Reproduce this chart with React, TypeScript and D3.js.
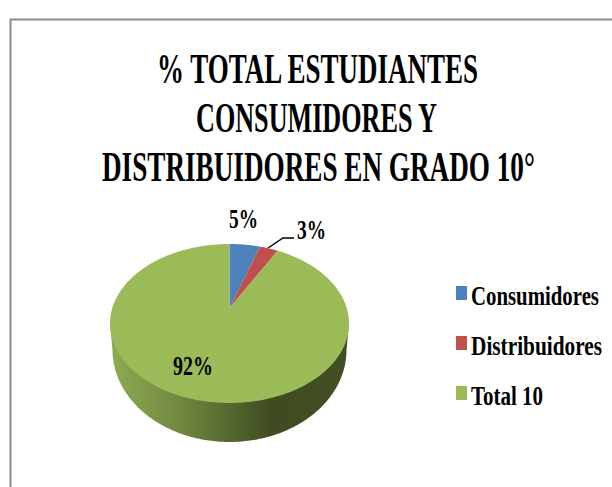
import React, { useLayoutEffect, useRef } from "react";
import * as d3 from "d3";

const categories = ["Consumidores", "Distribuidores", "Total 10"];
const values = [5, 3, 92];
const labels = ["5%", "3%", "92%"];
const colors = ["#4F81BD", "#C0504D", "#9BBB59"];
const titleLines = ["% TOTAL ESTUDIANTES", "CONSUMIDORES Y", "DISTRIBUIDORES EN GRADO 10°"];

const FONT = "'Liberation Serif', serif";
const cx = 229.5, cy = 323.5, rx = 119.5, ry = 79.5, k = 0.195;

// perspective projection of a point of the unit circle: keeps the rim, moves the centre backwards
function project(a: number, r = 1): [number, number] {
  const u = r * Math.sin(a), v = -r * Math.cos(a);
  const w = 1 - k * v;
  return [cx + (rx * u * Math.sqrt(1 - k * k)) / w, cy + (ry * (v - k)) / w];
}

const arcs = d3.pie<number>().sort(null)(values);
const line = d3.line();

function slicePath(a0: number, a1: number) {
  const n = Math.max(2, Math.ceil((a1 - a0) / 0.02));
  const pts = d3.range(n + 1).map((i) => project(a0 + ((a1 - a0) * i) / n));
  return line([project(0, 0), ...pts])! + "Z";
}

function wallPath() {
  const bcx = 229.5, bcy = 350, brx = 117, bry = 92;
  const bottom = d3.range(0, 181).map((i) => {
    const t = (Math.PI * i) / 180;
    return [bcx + brx * Math.cos(t), bcy + bry * Math.sin(t)] as [number, number];
  });
  return line([[cx + rx - 0.5, cy + 5], ...bottom, [cx - rx + 0.5, cy + 5]])! + "Z";
}

const titleSpec = [
  { y: 83, x0: 157, x1: 478 },
  { y: 132, x0: 196, x1: 437 },
  { y: 181, x0: 102, x1: 535 },
];
const legendY = [305, 355, 405];
const legendW = [128, 131, 72];
const labelSpec = [
  { x: 229, y: 228, w: 29 },
  { x: 297, y: 239, w: 29 },
  { x: 173, y: 375, w: 40 },
];

// real text squeezed horizontally to the width it has in the reference
function FitText({ x, y, width, size, children }: { x: number; y: number; width: number; size: number; children: string }) {
  const ref = useRef<SVGTextElement>(null);
  useLayoutEffect(() => {
    const el = ref.current!;
    const natural = el.getComputedTextLength();
    el.setAttribute("transform", `translate(${x},${y}) scale(${width / natural},1)`);
  });
  return (
    <text ref={ref} transform={`translate(${x},${y}) scale(0.7,1)`} fontFamily={FONT} fontWeight="bold" fontSize={size} fill="#000">
      {children}
    </text>
  );
}

export default function App() {
  return (
    <svg width={612} height={487} style={{ position: "absolute", left: 0, top: 0, background: "#fff" }}>
      <defs>
        <linearGradient id="wall" gradientUnits="userSpaceOnUse" x1={110} x2={349} y1={0} y2={0}>
          <stop offset="0" stopColor="#8EAB52" />
          <stop offset="0.3" stopColor="#71873F" />
          <stop offset="0.67" stopColor="#3F4C22" />
          <stop offset="1" stopColor="#424F24" />
        </linearGradient>
      </defs>
      <path d="M10.5,487V19.5H612" fill="none" stroke="#8c8c8c" strokeWidth={2} />
      {titleLines.map((t, i) => (
        <FitText key={t} x={titleSpec[i].x0} y={titleSpec[i].y} width={titleSpec[i].x1 - titleSpec[i].x0} size={42}>{t}</FitText>
      ))}
      <path d={wallPath()} fill="url(#wall)" />
      {arcs.map((a, i) => (
        <path key={i} d={slicePath(a.startAngle, a.endAngle)} fill={colors[i]} />
      ))}
      <path d="M268,248L283,238H294" fill="none" stroke="#000" strokeWidth={1.5} />
      {labels.map((l, i) => (
        <FitText key={l} x={labelSpec[i].x} y={labelSpec[i].y} width={labelSpec[i].w} size={28}>{l}</FitText>
      ))}
      {categories.map((c, i) => (
        <g key={c}>
          <rect x={456} y={legendY[i] - 19} width={11} height={14} fill={colors[i]} />
          <FitText x={471} y={legendY[i]} width={legendW[i]} size={28}>{c}</FitText>
        </g>
      ))}
    </svg>
  );
}
